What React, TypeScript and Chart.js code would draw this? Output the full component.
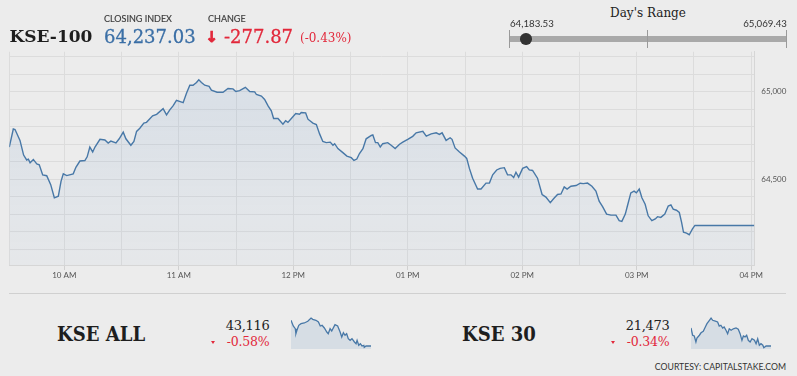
import React, { useEffect, useRef } from 'react';
import { Chart, registerables } from 'chart.js';
Chart.register(...registerables);

// ---- KSE-100 intraday (minutes since midnight, index value) ----
const mainTimes = [
  571.2, 573.3, 574.2, 576.8, 578.7, 580.3, 581.2, 582.1, 583.8, 585.6, 586.9, 588.7, 590.8, 592.9, 594.8, 596.9,
  598.3, 599.5, 601.3, 604.7, 606.1, 608.2, 610.8, 612, 613.4, 614.9, 616.1, 618.7, 621.3, 623, 624.4, 627.1,
  628.8, 630.9, 632.3, 634.9, 636.5, 637.9, 639.6, 641.7, 643.1, 646.3, 648.4, 651.8, 653.6, 655.3, 657, 658.8,
  662.3, 664.1, 665.8, 667.5, 669.3, 670.5, 671.9, 673.6, 675.9, 677.1, 680.1, 683.2, 685.8, 688.4, 689.9, 691.9,
  694.9, 697.2, 699.8, 700.7, 703.3, 705, 706.8, 708.5, 709.7, 712, 714.6, 716, 717.2, 719, 721.3, 723.3,
  724.2, 726.5, 727.7, 730.3, 732.1, 733.8, 735.5, 737.3, 739.4, 740.8, 741.7, 743.4, 746, 748.1, 750.4, 751.8,
  753.3, 754.7, 756.5, 758.2, 760.9, 761.7, 763.1, 764.3, 765.6, 766.9, 769.5, 771.3, 773.4, 775.7, 777.4, 780,
  782.6, 784.4, 787.9, 789.7, 792.3, 794.9, 796.6, 798, 800.1, 802.2, 803.2, 804.8, 807.1, 809.7, 810.9, 812.3,
  814, 816.6, 818.4, 821, 822.8, 824.5, 826.6, 828.4, 830.6, 832.3, 834.1, 835.5, 836.7, 838.1, 840.2, 842.3,
  843.7, 845.4, 848, 850.4, 852.4, 854.7, 856.4, 858.5, 860.3, 862, 863.5, 865.5, 868.2, 870.4, 872, 874.2,
  876.5, 878.6, 880.3, 882.1, 884.2, 886.5, 889.1, 890.8, 892.2, 894, 895.1, 896.9, 898.6, 899.8, 901.3, 902.7,
  904.4, 906, 907.9, 909.7, 910.9, 912.6, 914.7, 916.5, 917.9, 919.1, 920.8, 922.3, 923.5, 924.5, 926.1, 927.5,
  929.2, 930.5, 961.6,
];
const mainValues = [
  64685, 64788, 64785, 64723, 64639, 64611, 64616, 64595, 64614, 64588, 64583, 64526, 64521, 64470, 64395, 64404,
  64489, 64532, 64522, 64532, 64569, 64605, 64608, 64629, 64685, 64657, 64685, 64729, 64725, 64708, 64719, 64708,
  64732, 64770, 64732, 64695, 64717, 64774, 64792, 64822, 64826, 64863, 64872, 64904, 64869, 64897, 64920, 64951,
  64938, 64994, 65038, 65038, 65054, 65069, 65054, 65038, 65032, 65010, 64998, 64998, 65019, 65017, 65002, 65007,
  65026, 65002, 65000, 64985, 64976, 64957, 64920, 64892, 64848, 64848, 64816, 64835, 64826, 64848, 64876, 64872,
  64882, 64880, 64844, 64822, 64813, 64760, 64717, 64710, 64713, 64695, 64704, 64676, 64653, 64633, 64624, 64608,
  64616, 64648, 64676, 64732, 64751, 64754, 64710, 64710, 64685, 64704, 64710, 64695, 64676, 64701, 64713, 64729,
  64746, 64766, 64775, 64747, 64760, 64766, 64757, 64766, 64723, 64738, 64729, 64680, 64657, 64633, 64620, 64563,
  64507, 64445, 64445, 64479, 64479, 64526, 64554, 64563, 64567, 64526, 64526, 64511, 64541, 64513, 64563, 64573,
  64554, 64551, 64507, 64414, 64399, 64367, 64389, 64414, 64417, 64457, 64445, 64461, 64465, 64478, 64476, 64479,
  64461, 64433, 64376, 64344, 64302, 64296, 64296, 64264, 64260, 64302, 64348, 64423, 64433, 64423, 64445, 64395,
  64358, 64292, 64264, 64274, 64287, 64283, 64302, 64348, 64354, 64330, 64324, 64311, 64254, 64198, 64193, 64184,
  64217, 64237.03, 64237.03,
];

const xGridTimes = [600, 630, 660, 690, 720, 750, 780, 810, 840, 870, 900, 930, 960];
const xLabelTimes = [600, 660, 720, 780, 840, 900, 960];
const xLabelTexts = ['10 AM', '11 AM', '12 PM', '01 PM', '02 PM', '03 PM', '04 PM'];
const yGridValues = [64100, 64200, 64300, 64400, 64500, 64600, 64700, 64800, 64900, 65000, 65100, 65200];
const yLabelValues = [64500, 65000];

// ---- KSE ALL sparkline ----
const allTimes = [
  571, 582, 592, 595, 600, 609, 620, 636, 653, 669, 677, 693, 705, 714, 723, 734, 746, 753, 762, 770,
  786, 799, 811, 819, 827, 835, 843, 851, 860, 869, 881, 889, 894, 902, 910, 918, 927, 929, 938, 962,
];
const allValues = [
  43450, 43376, 43341, 43276, 43320, 43385, 43406, 43415, 43437, 43480, 43463, 43450, 43428, 43376, 43385, 43350,
  43298, 43276, 43341, 43311, 43393, 43376, 43298, 43233, 43289, 43255, 43276, 43211, 43190, 43211, 43168, 43146,
  43190, 43125, 43146, 43116, 43125, 43099, 43116, 43116,
];

// ---- KSE 30 sparkline ----
const k30Times = [
  571, 579, 587, 595, 600, 612, 620, 631, 641, 649, 661, 669, 677, 690, 701, 709, 717, 726, 733, 742,
  750, 758, 767, 778, 791, 802, 811, 820, 827, 835, 843, 851, 860, 869, 881, 889, 897, 905, 913, 922,
  927, 938, 962,
];
const k30Values = [
  21590, 21543, 21538, 21499, 21525, 21543, 21559, 21569, 21597, 21618, 21640, 21655, 21640, 21634, 21629, 21603,
  21608, 21590, 21597, 21575, 21553, 21585, 21575, 21585, 21590, 21582, 21553, 21510, 21538, 21532, 21543, 21510,
  21499, 21520, 21510, 21488, 21520, 21478, 21488, 21478, 21462, 21473, 21473,
];

const BG = '#ececec';
const LINE = '#4878a7';
const GRID = '#dcdcdc';
const RED = '#e2283b';

function MainChart() {
  const ref = useRef<HTMLCanvasElement>(null);
  useEffect(() => {
    const chart = new Chart(ref.current!, {
      type: 'line',
      data: {
        datasets: [
          {
            data: mainTimes.map((t, i) => ({ x: t, y: mainValues[i] })),
            borderColor: LINE,
            borderWidth: 1.4,
            pointRadius: 0,
            tension: 0,
            fill: 'start',
            backgroundColor: (ctx: any) => {
              const ca = ctx.chart.chartArea;
              if (!ca) return 'rgba(60,120,190,0.08)';
              const g = ctx.chart.ctx.createLinearGradient(0, ca.top, 0, ca.bottom);
              g.addColorStop(0, 'rgba(60,120,190,0.12)');
              g.addColorStop(1, 'rgba(60,120,190,0.03)');
              return g;
            },
          },
        ],
      },
      options: {
        animation: false,
        responsive: false,
        maintainAspectRatio: false,
        layout: { padding: { left: 9.3, top: 8.3, right: 0, bottom: 0 } },
        plugins: { legend: { display: false }, tooltip: { enabled: false } },
        scales: {
          x: {
            type: 'linear',
            min: 571.2,
            max: 961.6,
            afterBuildTicks: (s: any) => {
              s.ticks = [{ value: 571.2 }, ...xGridTimes.map((v) => ({ value: v }))];
            },
            afterFit: (s: any) => {
              s.height = 25;
            },
            grid: {
              color: GRID,
              tickLength: 5,
              tickColor: (c: any) => (xLabelTimes.includes(c.tick?.value) ? '#d0d0d0' : 'rgba(0,0,0,0)'),
            },
            border: { color: '#d6d6d6' },
            ticks: {
              autoSkip: false,
              maxRotation: 0,
              padding: 1,
              color: '#555',
              font: { family: 'Lato', size: 8 },
              callback: (v: any) => {
                const i = xLabelTimes.indexOf(Number(v));
                return i >= 0 ? xLabelTexts[i] : '';
              },
            },
          },
          y: {
            position: 'right',
            min: 64011,
            max: 65229,
            afterBuildTicks: (s: any) => {
              s.ticks = yGridValues.map((v) => ({ value: v }));
            },
            afterFit: (s: any) => {
              s.width = 42.7;
            },
            grid: { color: GRID, drawTicks: false },
            border: { color: '#d6d6d6' },
            ticks: {
              padding: 7,
              color: '#555',
              font: { family: 'Lato', size: 8 },
              callback: (v: any) => (yLabelValues.includes(Number(v)) ? Number(v).toLocaleString('en-US') : ''),
            },
          },
        },
      },
    });
    return () => chart.destroy();
  }, []);
  return (
    <canvas
      ref={ref}
      width={797}
      height={250}
      style={{ position: 'absolute', left: 0, top: 40, width: 797, height: 250 }}
    />
  );
}

function Spark({ times, values, left, min, max }: { times: number[]; values: number[]; left: number; min: number; max: number }) {
  const ref = useRef<HTMLCanvasElement>(null);
  useEffect(() => {
    const chart = new Chart(ref.current!, {
      type: 'line',
      data: {
        datasets: [
          {
            data: times.map((t, i) => ({ x: t, y: values[i] })),
            borderColor: LINE,
            borderWidth: 1.3,
            pointRadius: 0,
            tension: 0,
            fill: 'start',
            backgroundColor: 'rgba(70,120,180,0.13)',
          },
        ],
      },
      options: {
        animation: false,
        responsive: false,
        maintainAspectRatio: false,
        layout: { padding: 0 },
        plugins: { legend: { display: false }, tooltip: { enabled: false } },
        scales: {
          x: { type: 'linear', display: false, min: 571, max: 962 },
          y: { display: false, min, max },
        },
      },
    });
    return () => chart.destroy();
  }, []);
  return (
    <canvas ref={ref} width={80} height={33} style={{ position: 'absolute', left, top: 316, width: 80, height: 33 }} />
  );
}

const serif = '"DejaVu Serif", serif';
const sans = 'Lato, "Open Sans", sans-serif';

function T(props: { children: any; style: React.CSSProperties }) {
  return <div style={{ position: 'absolute', whiteSpace: 'nowrap', lineHeight: 1, ...props.style }}>{props.children}</div>;
}

function Tri({ left }: { left: number }) {
  return (
    <div
      style={{
        position: 'absolute',
        left: left - 2.5,
        top: 340.5,
        width: 0,
        height: 0,
        borderLeft: '2.5px solid transparent',
        borderRight: '2.5px solid transparent',
        borderTop: `3px solid ${RED}`,
      }}
    />
  );
}

const titleStyle: React.CSSProperties = {
  top: 322.5,
  fontFamily: serif,
  fontWeight: 'bold',
  fontSize: 21,
  color: '#1e1e1e',
  transform: 'scaleX(0.86)',
  transformOrigin: 'left center',
};

export default function App() {
  return (
    <div style={{ position: 'fixed', left: 0, top: 0, width: 797, height: 376, background: BG, overflow: 'hidden' }}>
      <MainChart />
      {/* Header */}
      <T style={{ left: 9.5, top: 27.9, fontFamily: serif, fontWeight: 'bold', fontSize: 17, color: '#1e1e1e' }}>KSE-100</T>
      <T style={{ left: 104, top: 13.7, fontFamily: sans, fontSize: 9, color: '#3a3a3a', WebkitTextStroke: '0.15px #3a3a3a' }}>CLOSING INDEX</T>
      <T style={{ left: 208, top: 13.7, fontFamily: sans, fontSize: 9, color: '#3a3a3a', WebkitTextStroke: '0.15px #3a3a3a' }}>CHANGE</T>
      <T style={{ left: 104, top: 27.5, fontFamily: serif, fontSize: 18, color: '#3b6fa6', WebkitTextStroke: '0.3px #3b6fa6' }}>64,237.03</T>
      <T style={{ left: 205.5, top: 29.5, fontFamily: '"DejaVu Sans", sans-serif', fontWeight: 'bold', fontSize: 15, color: RED, WebkitTextStroke: '0.8px ' + RED }}>↓</T>
      <T style={{ left: 224, top: 27.5, fontFamily: serif, fontSize: 18, color: RED, WebkitTextStroke: '0.3px ' + RED }}>-277.87</T>
      <T style={{ left: 300, top: 31.5, fontFamily: serif, fontSize: 12, color: RED }}>(-0.43%)</T>

      {/* Day's range */}
      <T style={{ left: 588, width: 120, textAlign: 'center', top: 7.2, fontFamily: serif, fontSize: 12, color: '#222' }}>Day's Range</T>
      <T style={{ left: 510, top: 18.7, fontFamily: sans, fontSize: 9.7, color: '#333' }}>64,183.53</T>
      <T style={{ right: 797 - 787, top: 18.7, fontFamily: sans, fontSize: 9.7, color: '#333' }}>65,069.43</T>
      <div style={{ position: 'absolute', left: 509, top: 36, width: 277, height: 5.5, background: '#a9a9a9' }} />
      <div style={{ position: 'absolute', left: 509, top: 30, width: 1, height: 18, background: '#9a9a9a' }} />
      <div style={{ position: 'absolute', left: 647, top: 30, width: 1, height: 18, background: '#9a9a9a' }} />
      <div style={{ position: 'absolute', left: 785.5, top: 30, width: 1, height: 18, background: '#9a9a9a' }} />
      <div style={{ position: 'absolute', left: 520, top: 33, width: 11.5, height: 11.5, borderRadius: '50%', background: '#333' }} />

      {/* Separator */}
      <div style={{ position: 'absolute', left: 9, top: 292.5, width: 777, height: 1, background: '#d0d0d0' }} />

      {/* KSE ALL */}
      <T style={{ left: 56.5, ...titleStyle }}>KSE ALL</T>
      <T style={{ right: 797 - 269.5, top: 318.5, fontFamily: serif, fontSize: 13, letterSpacing: -0.3, color: '#222' }}>43,116</T>
      <T style={{ right: 797 - 269.5, top: 335.5, fontFamily: serif, fontSize: 12.5, letterSpacing: -0.2, color: RED }}>-0.58%</T>
      <Tri left={213.3} />
      <Spark times={allTimes} values={allValues} left={291} min={43077} max={43506} />

      {/* KSE 30 */}
      <T style={{ left: 462.3, ...titleStyle }}>KSE 30</T>
      <T style={{ right: 797 - 669.5, top: 318.5, fontFamily: serif, fontSize: 13, letterSpacing: -0.3, color: '#222' }}>21,473</T>
      <T style={{ right: 797 - 669.5, top: 335.5, fontFamily: serif, fontSize: 12.5, letterSpacing: -0.2, color: RED }}>-0.34%</T>
      <Tri left={613.3} />
      <Spark times={k30Times} values={k30Values} left={691} min={21453.5} max={21668} />

      <T style={{ right: 11, top: 363.3, fontFamily: sans, fontSize: 8.7, color: '#333' }}>COURTESY: CAPITALSTAKE.COM</T>
    </div>
  );
}
